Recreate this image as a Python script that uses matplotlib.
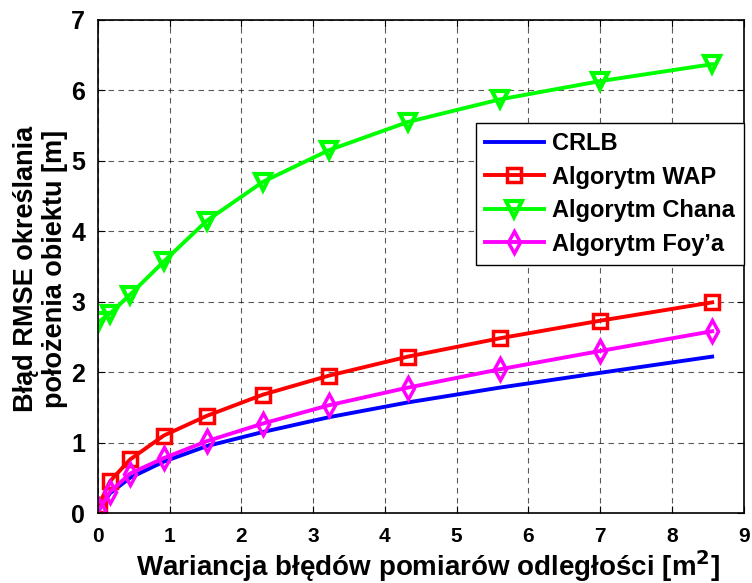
import matplotlib.pyplot as plt

plt.rcParams['font.family'] = ['Liberation Sans', 'DejaVu Sans']
plt.rcParams['font.weight'] = 'bold'

# data
wariancja = [0.02, 0.17, 0.45, 0.92, 1.52, 2.3, 3.22, 4.32, 5.6, 7.0, 8.56]
crlb = [0.05, 0.28, 0.50, 0.73, 0.95, 1.15, 1.36, 1.57, 1.78, 1.99, 2.22]
wap = [0.12, 0.45, 0.76, 1.10, 1.38, 1.68, 1.95, 2.22, 2.48, 2.73, 2.99]
chan = [2.72, 2.83, 3.10, 3.57, 4.15, 4.70, 5.15, 5.55, 5.87, 6.13, 6.37]
foy = [0.05, 0.30, 0.56, 0.78, 1.02, 1.27, 1.53, 1.78, 2.04, 2.30, 2.58]

fig = plt.figure(figsize=(7.52, 5.83), dpi=100)
ax = fig.add_axes([0.130, 0.120, 0.859, 0.846])

lw = 2.8
ax.plot(wariancja, crlb, color='#0000ff', lw=lw, label='CRLB')
ax.plot(wariancja, wap, color='#ff0000', lw=lw, marker='s', ms=10, mfc='none', mew=2.5,
        label='Algorytm WAP')
ax.plot(wariancja, chan, color='#00ff00', lw=lw, marker='v', ms=12, mfc='none', mew=3,
        label='Algorytm Chana')
ax.plot(wariancja, foy, color='#ff00ff', lw=lw, marker='d', ms=11, mfc='none', mew=2.5,
        label='Algorytm Foy\u2019a')

ax.set_xlim(0, 9)
ax.set_ylim(0, 7)
ax.set_xticks(range(0, 10))
ax.set_yticks(range(0, 8))
ax.grid(True, color='black', ls=(0, (5, 4)), lw=0.8, alpha=0.65)
ax.tick_params(direction='in', top=True, right=True, length=5)
ax.tick_params(axis='x', labelsize=15, pad=10)
ax.tick_params(axis='y', labelsize=18, pad=9)
for s in ax.spines.values():
    s.set_linewidth(1.2)

ax.set_xlabel('Wariancja błędów pomiarów odległości [m$^\\mathbf{2}$]', fontsize=20,
              fontweight='bold')
ax.xaxis.set_label_coords(0.511, -0.071, transform=ax.transAxes)
ax.xaxis.label.set_va('top')
ax.set_ylabel('Błąd RMSE określania\npołożenia obiektu [m]', fontsize=19.5,
              fontweight='bold', linespacing=1.15)
ax.yaxis.set_label_coords(-0.046, 0.495, transform=ax.transAxes)
ax.yaxis.label.set_va('bottom')

leg = ax.legend(loc='upper right', bbox_to_anchor=(1.0, 0.791), borderaxespad=0,
                prop={'weight': 'bold', 'size': 17}, fancybox=False, framealpha=1,
                edgecolor='black', handlelength=2.5, handletextpad=0.35,
                borderpad=0.38, labelspacing=0.45)
leg.get_frame().set_linewidth(1.0)

plt.savefig('out.png', dpi=100)
